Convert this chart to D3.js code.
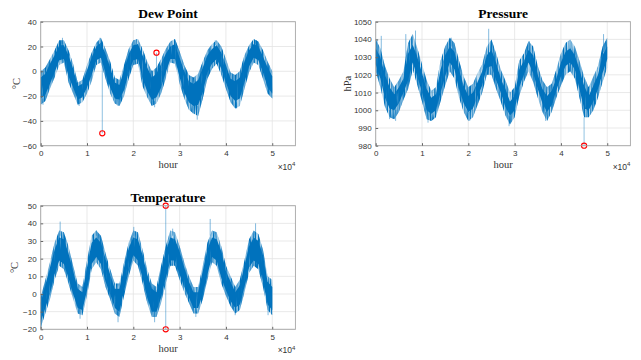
<!DOCTYPE html>
<html>
<head>
<meta charset="utf-8">
<script src="https://cdn.jsdelivr.net/npm/d3@7"></script>
<style>
  body { margin: 0; background: #fff; }
  svg { display: block; }
</style>
</head>
<body>
<svg id="fig" width="641" height="360"></svg>
<script>
// Sample hours for the envelope readings (hourly record, summarised every 1000 h)
const hours = [0,1000,2000,3000,4000,5000,6000,7000,8000,9000,10000,11000,12000,13000,14000,15000,16000,17000,18000,19000,20000,21000,22000,23000,24000,25000,26000,27000,28000,29000,30000,31000,32000,33000,34000,35000,36000,37000,38000,39000,40000,41000,42000,43000,44000,45000,46000,47000,48000,49000,50000];

// Dew point (°C): full range and dense core range per block
const dewHi     = [0,3,10,17,25,25,17,6,-9,-7,5,15,23,27,18,8,-5,-7,5,18,25,26,18,8,0,3,10,18,24,26,16,5,-3,-5,-2,8,17,22,25,20,10,-1,-3,0,13,21,26,24,17,8,0];
const dewLo     = [-27,-24,-14,-5,5,7,-9,-18,-27,-25,-18,-8,5,7,-6,-18,-26,-28,-20,-6,5,6,-12,-21,-28,-26,-18,-6,7,6,-10,-22,-31,-34,-36,-22,-6,2,6,-3,-14,-25,-30,-28,-14,-1,7,5,-6,-18,-22];
const dewCoreHi = [-5,-2,6,13,21,21,13,2,-12,-10,1,11,20,23,14,3,-9,-11,1,14,21,22,13,3,-5,-2,6,14,20,22,11,0,-8,-10,-7,3,13,18,21,15,5,-6,-8,-5,8,17,22,20,12,3,-4];
const dewCoreLo = [-22,-19,-10,-1,9,10,-4,-13,-23,-21,-13,-3,9,11,-1,-13,-22,-23,-15,-1,9,10,-6,-16,-23,-21,-13,-1,10,10,-5,-17,-25,-28,-27,-17,-1,6,10,2,-9,-20,-24,-22,-9,4,11,9,-1,-13,-18];
const dewSpikes = [[4700,22,27],[12800,22,27],[20700,22,26],[46600,22,25],[37700,21,25],[33800,-28,-39],[32900,-28,-34],[24600,-24,-29],[8300,-22,-28],[16700,-23,-28],[42300,-25,-30],[500,-22,-27]];
const dewOutliers = [[13300,12,-50],[25000,-3,15]];

// Pressure (hPa)
const presHi     = [1040,1035,1025,1018,1013,1017,1022,1038,1043,1035,1026,1017,1011,1013,1028,1036,1041,1038,1028,1019,1013,1015,1021,1026,1036,1040,1032,1023,1017,1010,1013,1028,1032,1039,1036,1025,1017,1013,1015,1023,1032,1038,1040,1036,1028,1019,1013,1019,1025,1036,1041];
const presLo     = [1022,1013,1002,996,995,999,1006,1012,1023,1014,1005,995,994,996,1005,1014,1022,1018,1007,999,994,996,1003,1010,1020,1020,1012,1005,997,992,996,1008,1016,1022,1016,1007,999,994,999,1007,1014,1020,1022,1018,1007,996,996,1000,1007,1016,1024];
const presCoreHi = [1035,1030,1020,1013,1009,1013,1018,1032,1037,1030,1021,1012,1007,1009,1023,1031,1036,1033,1023,1014,1008,1010,1016,1022,1031,1034,1027,1018,1012,1005,1008,1023,1028,1034,1031,1020,1012,1008,1011,1018,1027,1033,1035,1031,1023,1014,1008,1014,1020,1031,1036];
const presCoreLo = [1026,1018,1007,1001,1000,1004,1010,1017,1027,1019,1010,1000,998,1000,1010,1019,1027,1023,1012,1004,999,1001,1008,1014,1024,1025,1017,1010,1002,997,1000,1013,1020,1027,1021,1012,1004,999,1003,1011,1019,1025,1027,1023,1012,1001,1000,1005,1012,1021,1029];
const presSpikes = [[6500,1020,1043],[8600,1035,1045],[24400,1030,1046],[49200,1033,1043],[1200,1030,1042],[300,1030,1040],[16300,1036,1041],[33200,1032,1039],[3000,1000,995],[11300,1000,993],[20300,999,994],[28800,997,991],[36700,999,994],[4300,1000,994]];
const presOutliers = [[45000,996,980]];

// Temperature (°C)
const tempHi     = [-2,8,18,29,36,35,27,16,6,4,19,33,36,33,23,14,6,6,18,29,36,35,25,14,6,4,16,27,36,35,27,18,10,4,4,16,29,36,35,27,16,10,4,8,19,31,36,34,25,10,8];
const tempLo     = [-19,-11,-3,8,16,14,6,-3,-11,-12,-1,14,18,14,4,-3,-11,-13,-1,10,19,16,6,-5,-13,-13,-5,6,16,16,8,1,-5,-11,-11,-3,8,18,16,6,-1,-7,-11,-9,1,12,16,14,4,-9,-12];
const tempCoreHi = [-5,5,15,25,32,31,23,13,3,1,15,29,32,29,20,11,3,3,15,26,32,31,22,11,3,1,13,24,32,31,24,15,7,1,1,13,25,32,31,24,13,7,1,5,16,27,32,30,22,7,4];
const tempCoreLo = [-16,-8,0,11,19,17,9,0,-8,-9,2,17,21,17,7,0,-8,-10,2,13,22,19,9,-2,-10,-10,-2,9,19,19,11,4,-2,-8,-8,0,11,21,19,9,2,-4,-8,-6,4,15,19,17,7,-6,-9];
const tempSpikes = [[4200,33,41],[36600,33,42.5],[46400,33,40],[20100,33,38],[12000,33,36],[28500,33,37],[100,-15,-19],[8500,-8,-14],[16700,-10,-16],[24600,-10,-16],[33500,-8,-13],[42000,-8,-12],[49100,-6,-12]];
const tempOutliers = [[27000,15,50],[27000,15,-20]];

const xTicks = [0,10000,20000,30000,40000,50000];
const dewTicks = [-60,-40,-20,0,20,40];
const presTicks = [980,990,1000,1010,1020,1030,1040,1050];
const tempTicks = [-20,-10,0,10,20,30,40,50];

const BLUE = "#0072BD";
const svg = d3.select("#fig");
svg.append("rect").attr("width", 641).attr("height", 360).attr("fill", "#fff");

// Streaky fill: the hourly trace is so dense that it renders as vertical hatching
const defs = svg.append("defs");
function streakFilter(id, gain, bias, seed) {
  const f = defs.append("filter").attr("id", id)
    .attr("color-interpolation-filters", "sRGB")
    .attr("x", "-2%").attr("y", "-5%").attr("width", "104%").attr("height", "110%");
  f.append("feTurbulence").attr("type", "fractalNoise")
    .attr("baseFrequency", "0.85 0.035").attr("numOctaves", 2).attr("seed", seed).attr("result", "noise");
  f.append("feColorMatrix").attr("in", "noise").attr("type", "matrix")
    .attr("values", `0 0 0 0 0  0 0 0 0 0.447  0 0 0 0 0.741  ${gain} 0 0 0 ${bias}`).attr("result", "tone");
  f.append("feComposite").attr("in", "tone").attr("in2", "SourceGraphic").attr("operator", "in");
}
streakFilter("streakOuter", 2.6, -0.75, 4);
streakFilter("streakCore", 2.0, 0.3, 9);

function panel(cfg) {
  const x = d3.scaleLinear().domain([0, 55000]).range([cfg.left, cfg.right]);
  const y = d3.scaleLinear().domain(cfg.yDomain).range([cfg.bottom, cfg.top]);
  const g = svg.append("g");

  // grid
  g.append("g").selectAll("line").data(xTicks).join("line")
    .attr("x1", d => x(d)).attr("x2", d => x(d))
    .attr("y1", cfg.top).attr("y2", cfg.bottom)
    .attr("stroke", "#e3e3e3").attr("stroke-width", 0.8);
  g.append("g").selectAll("line").data(cfg.yTicks).join("line")
    .attr("x1", cfg.left).attr("x2", cfg.right)
    .attr("y1", d => y(d)).attr("y2", d => y(d))
    .attr("stroke", "#e3e3e3").attr("stroke-width", 0.8);

  const rows = hours.map((h, i) => ({h, hi: cfg.hi[i], lo: cfg.lo[i], chi: cfg.coreHi[i], clo: cfg.coreLo[i]}));
  const plot = g.append("g");

  // spikes and outlier stems
  plot.selectAll("line.spike").data(cfg.spikes).join("line").attr("class", "spike")
    .attr("x1", d => x(d[0])).attr("x2", d => x(d[0]))
    .attr("y1", d => y(d[1])).attr("y2", d => y(d[2]))
    .attr("stroke", BLUE).attr("stroke-opacity", 0.55).attr("stroke-width", 0.9);
  plot.selectAll("line.stem").data(cfg.outliers).join("line").attr("class", "stem")
    .attr("x1", d => x(d[0])).attr("x2", d => x(d[0]))
    .attr("y1", d => y(d[1])).attr("y2", d => y(d[2]))
    .attr("stroke", BLUE).attr("stroke-opacity", 0.55).attr("stroke-width", 0.8);

  const outer = d3.area().x(d => x(d.h)).y0(d => y(d.lo)).y1(d => y(d.hi));
  const core = d3.area().x(d => x(d.h)).y0(d => y(d.clo)).y1(d => y(d.chi));
  plot.append("path").datum(rows).attr("d", outer).attr("fill", BLUE).attr("fill-opacity", 0.25);
  plot.append("path").datum(rows).attr("d", outer).attr("fill", BLUE).attr("filter", "url(#streakOuter)");
  plot.append("path").datum(rows).attr("d", core).attr("fill", BLUE).attr("filter", "url(#streakCore)");

  // outlier markers
  plot.selectAll("circle").data(cfg.outliers).join("circle")
    .attr("cx", d => x(d[0])).attr("cy", d => y(d[2])).attr("r", 2.6)
    .attr("fill", "none").attr("stroke", "#ff0000").attr("stroke-width", 1.1);

  // box
  g.append("rect").attr("x", cfg.left).attr("y", cfg.top)
    .attr("width", cfg.right - cfg.left).attr("height", cfg.bottom - cfg.top)
    .attr("fill", "none").attr("stroke", "#a6a6a6").attr("stroke-width", 0.9);

  // axes (ticks point inward)
  const xAxis = d3.axisBottom(x).tickValues(xTicks).tickFormat(d => d / 10000)
    .tickSizeInner(-2.5).tickSizeOuter(0).tickPadding(5);
  const yAxis = d3.axisLeft(y).tickValues(cfg.yTicks).tickFormat(d3.format("d"))
    .tickSizeInner(-2.5).tickSizeOuter(0).tickPadding(4);
  const ax = g.append("g").attr("transform", `translate(0,${cfg.bottom})`).call(xAxis);
  const ay = g.append("g").attr("transform", `translate(${cfg.left},0)`).call(yAxis);
  [ax, ay].forEach(a => {
    a.select(".domain").remove();
    a.selectAll("line").attr("stroke", "#666");
    a.selectAll("text").attr("fill", "#333").style("font-family", "'Liberation Sans', Arial, sans-serif").style("font-size", "8px");
  });

  // title
  g.append("text").attr("x", (cfg.left + cfg.right) / 2).attr("y", cfg.top - 3.5)
    .attr("text-anchor", "middle").attr("fill", "#000")
    .style("font-family", "'Liberation Serif', 'Times New Roman', serif")
    .style("font-weight", "bold").style("font-size", "13.5px").text(cfg.title);

  // x label
  g.append("text").attr("x", (cfg.left + cfg.right) / 2).attr("y", cfg.bottom + 22.5)
    .attr("text-anchor", "middle").attr("fill", "#333")
    .style("font-family", "'Liberation Serif', 'Times New Roman', serif")
    .style("font-size", "10.5px").text("hour");

  // exponent
  const ex = g.append("text").attr("x", cfg.right).attr("y", cfg.bottom + 24)
    .attr("text-anchor", "end").attr("fill", "#333")
    .style("font-family", "'Liberation Sans', Arial, sans-serif").style("font-size", "8.5px");
  ex.append("tspan").text("\u00d710");
  ex.append("tspan").attr("dy", -3.5).style("font-size", "6px").text("4");

  // y label
  g.append("text")
    .attr("transform", `translate(${cfg.left - cfg.ylabOffset},${(cfg.top + cfg.bottom) / 2}) rotate(-90)`)
    .attr("text-anchor", "middle").attr("fill", "#333")
    .style("font-family", "'Liberation Serif', 'Times New Roman', serif")
    .style("font-size", "10.5px").text(cfg.ylabel);
}

panel({title: "Dew Point", ylabel: "\u00b0C", left: 40.7, right: 295.4, top: 21.7, bottom: 145.7,
  yDomain: [-60, 40], yTicks: dewTicks, hi: dewHi, lo: dewLo, coreHi: dewCoreHi, coreLo: dewCoreLo,
  spikes: dewSpikes, outliers: dewOutliers, ylabOffset: 21});
panel({title: "Pressure", ylabel: "hPa", left: 375.7, right: 630.4, top: 21.7, bottom: 145.7,
  yDomain: [980, 1050], yTicks: presTicks, hi: presHi, lo: presLo, coreHi: presCoreHi, coreLo: presCoreLo,
  spikes: presSpikes, outliers: presOutliers, ylabOffset: 24.5});
panel({title: "Temperature", ylabel: "\u00b0C", left: 40.7, right: 295.4, top: 205.7, bottom: 329.3,
  yDomain: [-20, 50], yTicks: tempTicks, hi: tempHi, lo: tempLo, coreHi: tempCoreHi, coreLo: tempCoreLo,
  spikes: tempSpikes, outliers: tempOutliers, ylabOffset: 23});
</script>
</body>
</html>
